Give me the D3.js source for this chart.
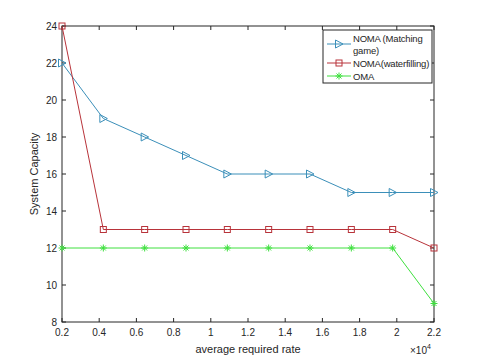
<!DOCTYPE html>
<html>
<head>
<meta charset="utf-8">
<script src="https://cdn.jsdelivr.net/npm/d3@7"></script>
<style>
  body { margin: 0; background: #fff; }
  text { font-family: "Liberation Sans", Arial, sans-serif; fill: #262626; }
</style>
</head>
<body>
<svg id="chart" width="480" height="363"></svg>
<script>
// x values (in units of 1e4)
var rates = [0.2, 0.4222, 0.6444, 0.8667, 1.0889, 1.3111, 1.5333, 1.7556, 1.9778, 2.2];
var nomaMatching = [22, 19, 18, 17, 16, 16, 16, 15, 15, 15];
var nomaWaterfilling = [24, 13, 13, 13, 13, 13, 13, 13, 13, 12];
var oma = [12, 12, 12, 12, 12, 12, 12, 12, 12, 9];
var xTicks = [0.2, 0.4, 0.6, 0.8, 1, 1.2, 1.4, 1.6, 1.8, 2, 2.2];
var yTicks = [8, 10, 12, 14, 16, 18, 20, 22, 24];

var series = [
  { name: 'NOMA (Matching game)', lines: ['NOMA (Matching', 'game)'], values: nomaMatching, color: '#3b8fb9', marker: 'tri' },
  { name: 'NOMA(waterfilling)', lines: ['NOMA(waterfilling)'], values: nomaWaterfilling, color: '#b8333a', marker: 'square' },
  { name: 'OMA', lines: ['OMA'], values: oma, color: '#3ee03e', marker: 'star' }
];

var svg = d3.select('#chart');
var pLeft = 62, pRight = 434, pTop = 26, pBottom = 322;

var x = d3.scaleLinear().domain([0.2, 2.2]).range([pLeft, pRight]);
var y = d3.scaleLinear().domain([8, 24]).range([pBottom, pTop]);

//axes box
svg.append('rect')
  .attr('x', pLeft).attr('y', pTop)
  .attr('width', pRight - pLeft).attr('height', pBottom - pTop)
  .attr('fill', '#fff').attr('stroke', '#262626').attr('stroke-width', 1);

//inward ticks, all four sides
var tickLen = 4;
var g = svg.append('g').attr('stroke', '#262626').attr('stroke-width', 1);
xTicks.forEach(function(t) {
  g.append('line').attr('x1', x(t)).attr('x2', x(t)).attr('y1', pBottom).attr('y2', pBottom - tickLen);
  g.append('line').attr('x1', x(t)).attr('x2', x(t)).attr('y1', pTop).attr('y2', pTop + tickLen);
});
yTicks.forEach(function(t) {
  g.append('line').attr('x1', pLeft).attr('x2', pLeft + tickLen).attr('y1', y(t)).attr('y2', y(t));
  g.append('line').attr('x1', pRight).attr('x2', pRight - tickLen).attr('y1', y(t)).attr('y2', y(t));
});

//tick labels
svg.selectAll('.xlab').data(xTicks).enter().append('text')
  .attr('x', function(d) { return x(d); })
  .attr('y', pBottom + 14)
  .attr('text-anchor', 'middle')
  .attr('font-size', 10)
  .text(function(d) { return d; });

svg.selectAll('.ylab').data(yTicks).enter().append('text')
  .attr('x', pLeft - 5)
  .attr('y', function(d) { return y(d) + 3.5; })
  .attr('text-anchor', 'end')
  .attr('font-size', 10)
  .text(function(d) { return d; });

//axis titles
svg.append('text')
  .attr('x', (pLeft + pRight) / 2).attr('y', pBottom + 31)
  .attr('text-anchor', 'middle').attr('font-size', 11)
  .text('average required rate');

svg.append('text')
  .attr('transform', 'translate(' + (pLeft - 24) + ',' + ((pTop + pBottom) / 2) + ') rotate(-90)')
  .attr('text-anchor', 'middle').attr('font-size', 11)
  .text('System Capacity');

var expo = svg.append('text')
  .attr('x', pRight - 24).attr('y', pBottom + 32)
  .attr('font-size', 10);
expo.append('tspan').text('\u00d710');
expo.append('tspan').attr('dy', -5).attr('font-size', 7).text('4');

//marker drawing
function drawMarker(sel, type, color, cx, cy) {
  if (type == 'tri') {
    sel.append('path')
      .attr('d', 'M' + (cx - 3.5) + ',' + (cy - 4) + 'L' + (cx + 4) + ',' + cy + 'L' + (cx - 3.5) + ',' + (cy + 4) + 'Z')
      .attr('fill', 'none').attr('stroke', color).attr('stroke-width', 1);
  }
  else if (type == 'square') {
    sel.append('rect')
      .attr('x', cx - 3).attr('y', cy - 3).attr('width', 6).attr('height', 6)
      .attr('fill', 'none').attr('stroke', color).attr('stroke-width', 1);
  }
  else {
    var r = 3.5;
    var p = '';
    [0, 45, 90, 135].forEach(function(a) {
      var rad = a * Math.PI / 180;
      p += 'M' + (cx - r * Math.cos(rad)) + ',' + (cy - r * Math.sin(rad)) + 'L' + (cx + r * Math.cos(rad)) + ',' + (cy + r * Math.sin(rad));
    });
    sel.append('path').attr('d', p).attr('stroke', color).attr('stroke-width', 1);
  }
}

var line = d3.line()
  .x(function(d) { return x(d[0]); })
  .y(function(d) { return y(d[1]); });

series.forEach(function(s) {
  var pts = rates.map(function(r, i) { return [r, s.values[i]]; });
  svg.append('path')
    .attr('d', line(pts))
    .attr('fill', 'none').attr('stroke', s.color).attr('stroke-width', 1);
  var mg = svg.append('g');
  pts.forEach(function(p) { drawMarker(mg, s.marker, s.color, x(p[0]), y(p[1])); });
});

//legend
var lg = svg.append('g');
lg.append('rect')
  .attr('x', 323).attr('y', 30).attr('width', 109).attr('height', 53)
  .attr('fill', '#fff').attr('stroke', '#262626').attr('stroke-width', 1);

var rowY = [44, 63, 76];
series.forEach(function(s, i) {
  var ly = rowY[i];
  lg.append('line').attr('x1', 327).attr('x2', 351).attr('y1', ly).attr('y2', ly)
    .attr('stroke', s.color).attr('stroke-width', 1);
  drawMarker(lg, s.marker, s.color, 339, ly);
  s.lines.forEach(function(t, j) {
    lg.append('text')
      .attr('x', 353).attr('y', ly - (s.lines.length > 1 ? 6 : 0) + 3.5 + j * 12)
      .attr('font-size', 9.5)
      .attr('letter-spacing', -0.2)
      .text(t);
  });
});
</script>
</body>
</html>
